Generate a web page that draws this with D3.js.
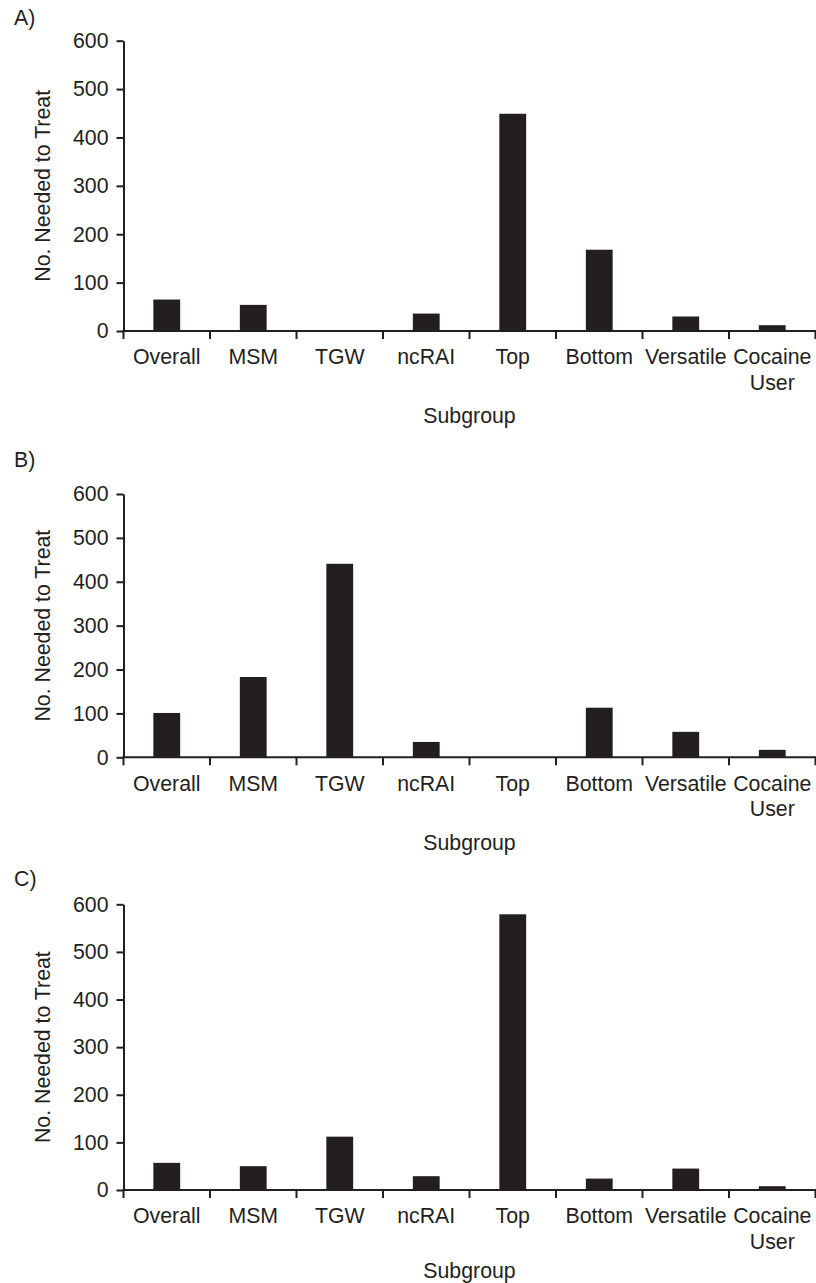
<!DOCTYPE html>
<html>
<head>
<meta charset="utf-8">
<script src="https://cdn.jsdelivr.net/npm/d3@7"></script>
<style>
  html, body { margin: 0; padding: 0; background: #fff; }
  svg { display: block; }
  text { font-family: "Liberation Sans", Arial, sans-serif; fill: #231f20; }
</style>
</head>
<body>
<svg id="chart" width="816" height="1283"></svg>
<script>
const categories = ["Overall", "MSM", "TGW", "ncRAI", "Top", "Bottom", "Versatile", "Cocaine User"];
const panelA = [65, 54, 0, 36, 449, 168, 30, 12];
const panelB = [101, 183, 441, 35, 0, 113, 58, 17];
const panelC = [57, 50, 112, 29, 579, 24, 45, 8];
const yTicks = [0, 100, 200, 300, 400, 500, 600];
const panelLabels = ["A)", "B)", "C)"];
const yTitle = "No. Needed to Treat";
const xTitle = "Subgroup";

const ink = "#231f20";
const fs = 21.3;
const svg = d3.select("#chart");

const panels = [
  { label: panelLabels[0], values: panelA, yTop: 40.7, yZero: 331, labelY: 18, titleOff: 85 },
  { label: panelLabels[1], values: panelB, yTop: 494, yZero: 757.3, labelY: 460, titleOff: 85 },
  { label: panelLabels[2], values: panelC, yTop: 904.3, yZero: 1190, labelY: 879, titleOff: 81 }
];

const x = d3.scaleBand().domain(categories).range([123.5, 815.5]).padding(0);
const barW = x.bandwidth() * 0.31;

panels.forEach(p => {
  const g = svg.append("g");
  const y = d3.scaleLinear().domain([0, 600]).range([p.yZero, p.yTop]);

  g.append("text").attr("x", 14).attr("y", p.labelY).attr("dy", "0.35em")
    .attr("font-size", fs).text(p.label);

  g.selectAll("rect.bar").data(categories.map((c, i) => ({ c, v: p.values[i] })))
    .join("rect").attr("class", "bar")
    .attr("x", d => x(d.c) + x.bandwidth() / 2 - barW / 2)
    .attr("width", barW)
    .attr("y", d => y(d.v))
    .attr("height", d => y(0) - y(d.v))
    .attr("fill", ink);

  const ya = g.append("g").attr("transform", `translate(${x.range()[0]},0)`)
    .call(d3.axisLeft(y).tickValues(yTicks).tickSize(7).tickSizeOuter(0).tickPadding(8).tickFormat(d3.format("d")));
  ya.select(".domain").attr("stroke", ink).attr("stroke-width", 2);
  ya.selectAll(".tick line").attr("stroke", ink).attr("stroke-width", 2);
  ya.selectAll(".tick text").attr("font-size", fs).attr("fill", ink)
    .style("font-family", '"Liberation Sans", Arial, sans-serif');

  const [x0, x1] = x.range();
  g.append("line").attr("x1", x0 - 1).attr("x2", x1 + 1)
    .attr("y1", y(0)).attr("y2", y(0)).attr("stroke", ink).attr("stroke-width", 2);

  const bounds = categories.map(c => x(c)).concat([x1]);
  g.selectAll("line.xt").data(bounds).join("line").attr("class", "xt")
    .attr("x1", d => d).attr("x2", d => d)
    .attr("y1", y(0)).attr("y2", y(0) + 8)
    .attr("stroke", ink).attr("stroke-width", 2);

  const lbl = g.selectAll("text.xl").data(categories).join("text").attr("class", "xl")
    .attr("text-anchor", "middle").attr("font-size", fs)
    .attr("transform", c => `translate(${x(c) + x.bandwidth() / 2},${y(0) + 26})`);
  lbl.each(function(c) {
    const words = c === "Cocaine User" ? ["Cocaine", "User"] : [c];
    d3.select(this).selectAll("tspan").data(words).join("tspan")
      .attr("x", 0).attr("dy", (w, i) => i === 0 ? "0.35em" : "1.2em").text(w => w);
  });

  g.append("text").attr("x", (x0 + x1) / 2).attr("y", y(0) + p.titleOff).attr("dy", "0.35em")
    .attr("text-anchor", "middle").attr("font-size", fs).text(xTitle);

  g.append("text")
    .attr("transform", `translate(43,${(p.yTop + p.yZero) / 2}) rotate(-90)`)
    .attr("dy", "0.35em").attr("text-anchor", "middle").attr("font-size", fs).text(yTitle);
});
</script>
</body>
</html>
